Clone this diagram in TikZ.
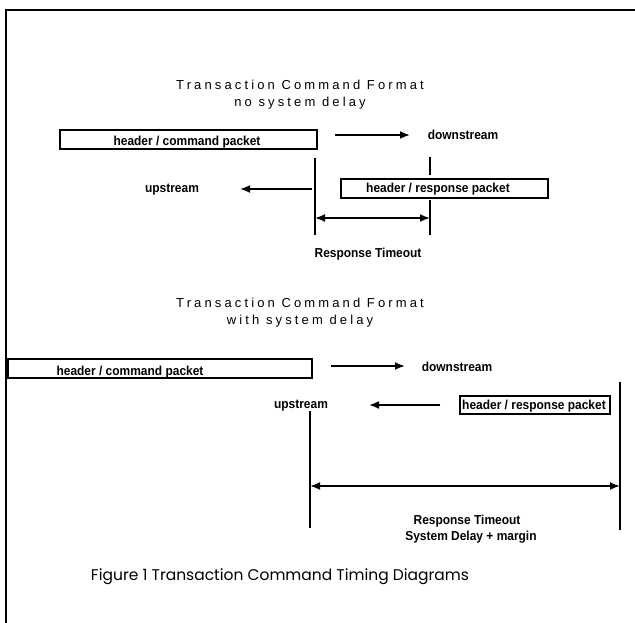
\documentclass[tikz,border=0pt]{standalone}
\usepackage{fontspec}
\setmainfont{Liberation Sans}
\newfontfamily\titlefont[LetterSpace=24]{Liberation Sans}
\newfontfamily\lblfont[FakeStretch=0.92]{Liberation Sans}
\newfontfamily\capfont{Poppins}
\usetikzlibrary{arrows.meta}

\begin{document}
\begin{tikzpicture}[x=1pt,y=-1pt,
  heading/.style={font=\titlefont\fontsize{13}{17}\selectfont, inner sep=0, anchor=base},
  lbl/.style={font=\lblfont\bfseries\fontsize{13}{15}\selectfont, inner sep=0, anchor=base},
  packet/.style={draw, line width=1.8pt, inner sep=0, anchor=north west},
  flow/.style={-{Latex[length=10pt,width=8pt]}, line width=1.8pt},
  span/.style={{Latex[length=10pt,width=8pt]}-{Latex[length=10pt,width=8pt]}, line width=1.8pt},
  tick/.style={line width=1.7pt}]

\useasboundingbox (0,0) rectangle (635,623);

% page frame (top and left edge)
\coordinate (fbl) at (6,623);
\coordinate (ftl) at (6,10);
\coordinate (ftr) at (635,10);
\draw[line width=2pt] (fbl) -- (ftl) -- (ftr);

% ---------- no system delay ----------
\node[heading] (t1a) at (300,90) {Transaction Command Format};
\node[heading] (t1b) at (300,107) {no system delay};

\node[packet, minimum width=257pt, minimum height=19pt] (cmd1) at (59,129) {};
\node[lbl] (cmd1txt) at (187,145.5) {header / command packet};

\coordinate (d1s) at (335,135);
\coordinate (d1e) at (410,135);
\draw[flow] (d1s) -- (d1e);
\node[lbl] (down1) at (463,140) {downstream};

\node[packet, minimum width=207pt, minimum height=19pt] (rsp1) at (340,178) {};
\node[lbl] (rsp1txt) at (438,192.5) {header / response packet};

\coordinate (u1s) at (312,189);
\coordinate (u1e) at (240,189);
\draw[flow] (u1s) -- (u1e);
\node[lbl] (up1) at (172,192.5) {upstream};

% timing marks
\coordinate (l1top) at (315,158);
\coordinate (l1bot) at (315,235);
\draw[tick] (l1top) -- (l1bot);
\coordinate (r1top) at (430,157);
\coordinate (r1mid) at (430,175);
\coordinate (r1low) at (430,200);
\coordinate (r1bot) at (430,235);
\draw[tick] (r1top) -- (r1mid) (r1low) -- (r1bot);

\coordinate (s1a) at (315,218);
\coordinate (s1b) at (430,218);
\draw[span] (s1a) -- (s1b);
\node[lbl] (rt1) at (368,257) {Response Timeout};

% ---------- with system delay ----------
\node[heading] (t2a) at (300,307) {Transaction Command Format};
\node[heading] (t2b) at (300,324) {with system delay};

\node[packet, minimum width=304pt, minimum height=19pt] (cmd2) at (7,358) {};
\node[lbl] (cmd2txt) at (130,375) {header / command packet};

\coordinate (d2s) at (331,366);
\coordinate (d2e) at (405,366);
\draw[flow] (d2s) -- (d2e);
\node[lbl] (down2) at (457,371) {downstream};

\node[packet, minimum width=150pt, minimum height=18pt] (rsp2) at (459,395) {};
\node[lbl] (rsp2txt) at (534,409) {header / response packet};

\coordinate (u2s) at (440,405);
\coordinate (u2e) at (369,405);
\draw[flow] (u2s) -- (u2e);
\node[lbl] (up2) at (301,408) {upstream};

\coordinate (l2top) at (310,411);
\coordinate (l2bot) at (310,528);
\draw[tick] (l2top) -- (l2bot);
\coordinate (r2top) at (620,382);
\coordinate (r2bot) at (620,530);
\draw[tick] (r2top) -- (r2bot);

\coordinate (s2a) at (310,486);
\coordinate (s2b) at (620,486);
\draw[span] (s2a) -- (s2b);
\node[lbl] (rt2) at (467,524) {Response Timeout};
\node[lbl] (sd2) at (471,540) {System Delay + margin};

% caption
\node[font=\capfont\fontsize{15.5}{18}\selectfont, inner sep=0, anchor=base] (cap) at (280,580)
  {Figure 1 Transaction Command Timing Diagrams};
\end{tikzpicture}
\end{document}
